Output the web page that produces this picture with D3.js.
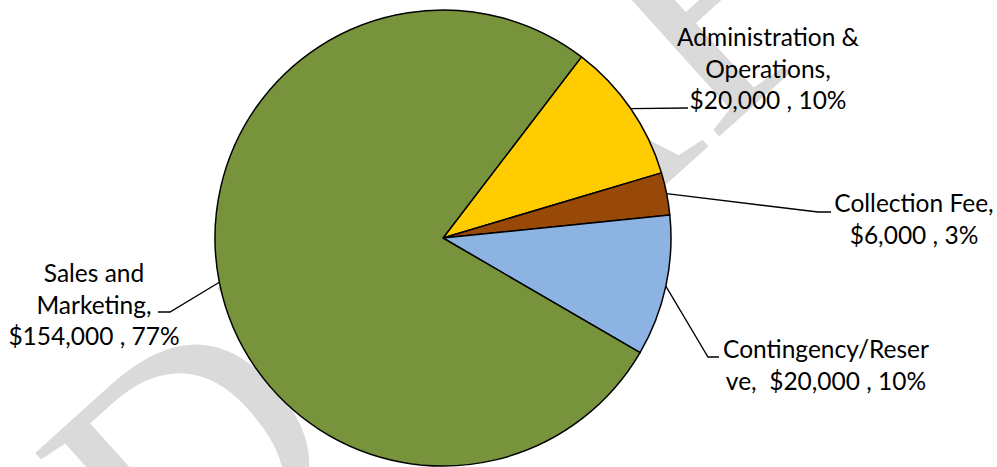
<!DOCTYPE html>
<html>
<head>
<meta charset="utf-8">
<script src="https://cdn.jsdelivr.net/npm/d3@7"></script>
<style>
  html, body { margin: 0; padding: 0; background: #fff; }
  svg { display: block; }
  .lbl { font-family: Lato, "Open Sans", sans-serif; fill: #000; white-space: pre; }
</style>
</head>
<body>
<svg id="chart" width="997" height="467"></svg>
<script>
// data
const categories = ["Administration & Operations", "Collection Fee", "Contingency/Reserve", "Sales and Marketing"];
const amounts = [20000, 6000, 20000, 154000];
const sliceColors = ["#ffcc00", "#984807", "#8db3e2", "#77933c"];
// how Excel wrapped the category names in the labels
const nameLines = [["Administration &", "Operations,"], ["Collection Fee,"], ["Contingency/Reser", "ve,  "], ["Sales and", "Marketing,"]];

const W = 997, H = 467;
const cx = 443, cy = 238, R = 228;
const firstAngle = 37.4 * Math.PI / 180;

// label block centre x, first baseline, elbow of leader line
const labelPos = [
  {x: 768, y: 46, elbow: null, end: [688, 108]},
  {x: 914, y: 212, elbow: [818, 212], end: [831, 212]},
  {x: 826, y: 358, elbow: [708, 357], end: [719, 357]},
  {x: 94, y: 282, elbow: [170, 312], end: [158, 312]}
];
const lineGap = 31.5;

const svg = d3.select('#chart');

// watermark behind the chart
svg.append('text')
  .attr('transform', 'translate(591,252) rotate(-42)')
  .attr('text-anchor', 'middle')
  .style('font-family', '"Liberation Serif", serif')
  .style('font-size', '340px')
  .attr('fill', '#dadada')
  .text('DRAFT');

const total = d3.sum(amounts);
const money = d3.format('$,');
const pct = v => Math.round(v / total * 100) + '%';

const data = categories.map((c, i) => ({name: c, value: amounts[i], color: sliceColors[i], i: i}));

const pie = d3.pie().sort(null).value(d => d.value)
  .startAngle(firstAngle).endAngle(firstAngle + 2 * Math.PI);
const arcs = pie(data);

const arc = d3.arc().innerRadius(0).outerRadius(R);

const g = svg.append('g').attr('transform', `translate(${cx},${cy})`);

g.selectAll('path.slice')
  .data(arcs)
  .join('path')
  .attr('class', 'slice')
  .attr('d', arc)
  .attr('fill', d => d.data.color)
  .attr('stroke', '#000')
  .attr('stroke-width', 1.5)
  .attr('stroke-linejoin', 'round');

// leader lines
const line = d3.line();
svg.selectAll('path.leader')
  .data(arcs)
  .join('path')
  .attr('class', 'leader')
  .attr('d', d => {
    const p = labelPos[d.data.i];
    const a = (d.startAngle + d.endAngle) / 2;
    const start = [cx + R * Math.sin(a), cy - R * Math.cos(a)];
    const pts = [start];
    if (p.elbow) pts.push(p.elbow);
    pts.push(p.end);
    return line(pts);
  })
  .attr('fill', 'none')
  .attr('stroke', '#000')
  .attr('stroke-width', 1.3);

// labels
const labels = svg.selectAll('text.lbl')
  .data(data)
  .join('text')
  .attr('class', 'lbl')
  .attr('text-anchor', 'middle')
  .style('font-size', '24.5px');

labels.each(function(d) {
  const p = labelPos[d.i];
  const names = nameLines[d.i].slice();
  const valueText = money(d.value) + ' , ' + pct(d.value);
  let lines;
  if (names[names.length - 1].endsWith(' ')) {
    names[names.length - 1] = names[names.length - 1] + valueText;
    lines = names;
  } else {
    lines = names.concat([valueText]);
  }
  d3.select(this).selectAll('tspan')
    .data(lines)
    .join('tspan')
    .attr('x', p.x)
    .attr('y', (t, k) => p.y + k * lineGap)
    .text(t => t);
});
</script>
</body>
</html>
